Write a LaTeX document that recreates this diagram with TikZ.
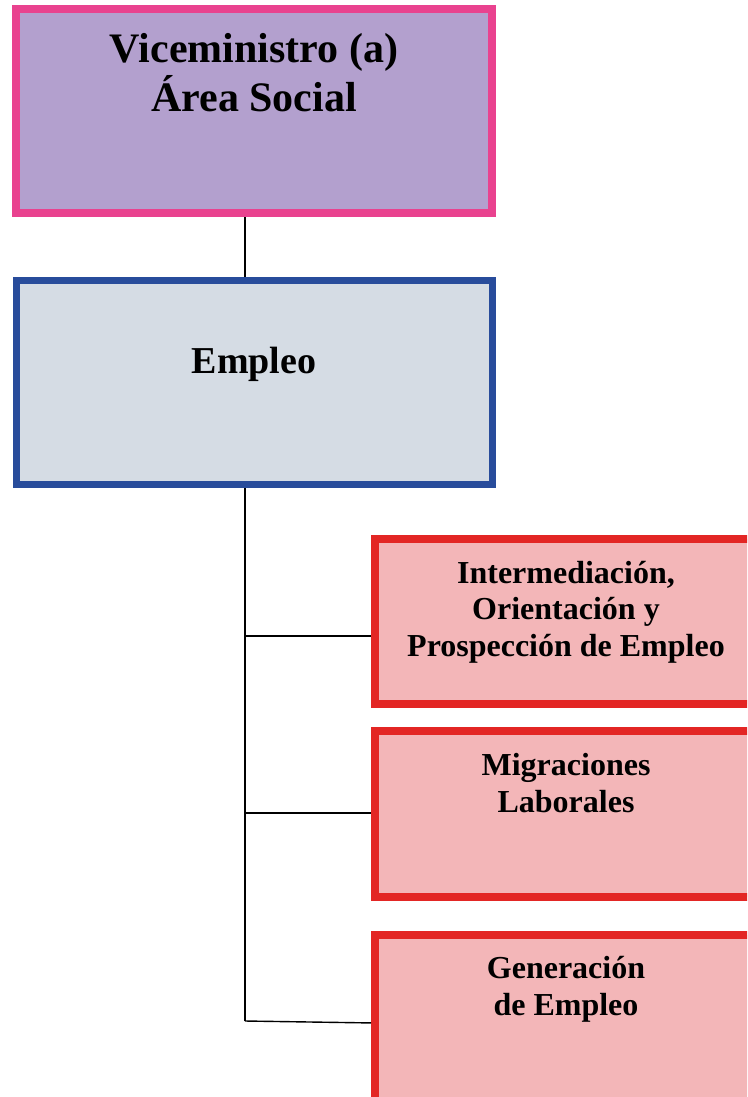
\documentclass[tikz,border=0pt]{standalone}
\usepackage{fontspec}
\setmainfont{Liberation Serif}
\usetikzlibrary{positioning}

\definecolor{vicefill}{RGB}{179,160,206}
\definecolor{viceline}{RGB}{233,66,143}
\definecolor{empfill}{RGB}{213,220,228}
\definecolor{empline}{RGB}{40,76,155}
\definecolor{unitfill}{RGB}{243,182,184}
\definecolor{unitline}{RGB}{227,38,36}

\begin{document}
\begin{tikzpicture}[x=1pt, y=-1pt]

    \tikzstyle{orgbox} = [rectangle, inner sep=0, outer sep=0, anchor=north west];
    \tikzstyle{vicebox} = [orgbox, draw=viceline, fill=vicefill, line width=8pt, minimum width=476pt, minimum height=204pt];
    \tikzstyle{empbox} = [orgbox, draw=empline, fill=empfill, line width=7pt, minimum width=476pt, minimum height=204pt];
    \tikzstyle{unitbox} = [orgbox, draw=unitline, fill=unitfill, line width=8pt, minimum width=382pt, minimum height=166pt];
    \tikzstyle{boxtext} = [align=center, anchor=base, inner sep=0];
    \tikzstyle{link} = [black, line width=1.4pt];

    \useasboundingbox (0,0) rectangle (747,1097);
    \clip (0,0) rectangle (747,1097);

    % Boxes
    \node[vicebox] (vice) at (16,9) {};
    \node[empbox] (emp) at (16,280.5) {};
    \node[unitbox, minimum height=165pt] (inter) at (375,539) {};
    \node[unitbox] (migra) at (375,731) {};
    \node[unitbox] (gener) at (375,935) {};

    % Texts (base = last line)
    \node[boxtext, font=\bfseries\fontsize{42}{49}\selectfont] (vicetext) at ([yshift=-103pt]vice.north) {Viceministro (a)\\Área Social};
    \node[boxtext, font=\bfseries\fontsize{38}{44}\selectfont] (emptext) at ([yshift=-92.5pt]emp.north) {Empleo};
    \node[boxtext, font=\bfseries\fontsize{32}{36.5}\selectfont] (intertext) at ([yshift=-117pt]inter.north) {Intermediación,\\Orientación y\\Prospección de Empleo};
    \node[boxtext, font=\bfseries\fontsize{32}{36.5}\selectfont] (migratext) at ([yshift=-81pt]migra.north) {Migraciones\\Laborales};
    \node[boxtext, font=\bfseries\fontsize{32}{36.5}\selectfont] (genertext) at ([yshift=-80pt]gener.north) {Generación\\de Empleo};

    % Trunk
    \coordinate (trunk) at (245,0);
    \coordinate (b1) at (245,636);
    \coordinate (b2) at (245,813);
    \coordinate (b3) at (245,1021);

    \draw[link, shorten <=4pt, shorten >=3.5pt] (vice.south -| trunk) -- (emp.north -| trunk);
    \draw[link, shorten <=3.5pt] (emp.south -| trunk) -- (b3);
    \draw[link, shorten >=4pt] (b1) -- (b1 -| inter.west);
    \draw[link, shorten >=4pt] (b2) -- (b2 -| migra.west);
    \draw[link, shorten >=4pt] (b3) -- ([yshift=-2pt]b3 -| gener.west);

\end{tikzpicture}
\end{document}
